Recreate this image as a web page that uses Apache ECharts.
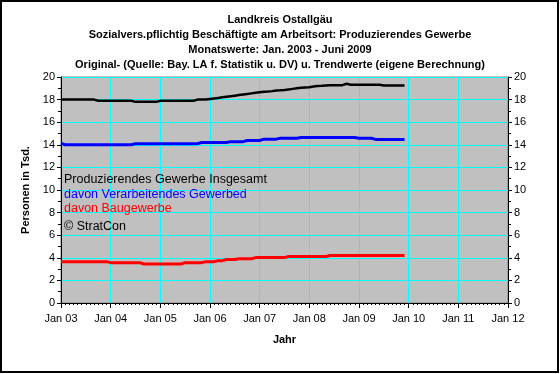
<!DOCTYPE html>
<html><head><meta charset="utf-8">
<script src="https://cdn.jsdelivr.net/npm/echarts@6/dist/echarts.min.js"></script>
<style>html,body{margin:0;padding:0;background:#fff}#c{width:560px;height:374px}</style>
</head><body><div id="c"></div>
<script>
// Months since Jan 2003 (0 = Jan 03 ... 83 = Dec 09)
const xTickLabels = ['Jan 03','Jan 04','Jan 05','Jan 06','Jan 07','Jan 08','Jan 09','Jan 10','Jan 11','Jan 12'];
const yTickLabels = ['0','2','4','6','8','10','12','14','16','18','20'];
const titleLines = [
  'Landkreis Ostallgäu',
  'Sozialvers.pflichtig Beschäftigte am Arbeitsort: Produzierendes Gewerbe',
  'Monatswerte: Jan. 2003 - Juni 2009',
  'Original- (Quelle: Bay. LA f. Statistik u. DV) u. Trendwerte (eigene Berechnung)'
];
const seriesNames = ['Produzierendes Gewerbe Insgesamt','davon Verarbeitendes Gewerbed','davon Baugewerbe'];
const noteText = '© StratCon';

const insgesamt = [
  18.0,18.0,18.0,18.0,18.0,18.0,18.0,18.0,18.0,17.9,17.9,17.9,
  17.9,17.9,17.9,17.9,17.9,17.9,17.8,17.8,17.8,17.8,17.8,17.8,
  17.9,17.9,17.9,17.9,17.9,17.9,17.9,17.9,17.9,18.0,18.0,18.0,
  18.05,18.1,18.15,18.2,18.25,18.3,18.35,18.4,18.45,18.5,18.55,18.6,
  18.65,18.7,18.72,18.75,18.8,18.82,18.85,18.9,18.95,19.0,19.05,19.08,
  19.1,19.15,19.2,19.22,19.25,19.28,19.28,19.28,19.28,19.4,19.32,19.32,
  19.32,19.32,19.32,19.32,19.32,19.32,19.25,19.25,19.25,19.25,19.25,19.25
];
const verarbeitend = [
  14.15,14.0,14.0,14.0,14.0,14.0,14.0,14.0,14.0,14.0,14.0,14.0,
  14.0,14.0,14.0,14.0,14.0,14.0,14.1,14.1,14.1,14.1,14.1,14.1,
  14.1,14.1,14.1,14.1,14.1,14.1,14.1,14.1,14.1,14.1,14.2,14.2,
  14.2,14.2,14.2,14.2,14.2,14.28,14.28,14.28,14.28,14.38,14.38,14.38,
  14.38,14.5,14.5,14.5,14.5,14.58,14.58,14.58,14.58,14.58,14.65,14.65,
  14.65,14.65,14.65,14.65,14.65,14.65,14.65,14.65,14.65,14.65,14.65,14.65,
  14.58,14.58,14.58,14.58,14.48,14.48,14.48,14.48,14.48,14.48,14.48,14.48
];
const bau = [
  3.66,3.66,3.66,3.66,3.66,3.66,3.66,3.66,3.66,3.66,3.66,3.66,
  3.57,3.57,3.57,3.57,3.57,3.57,3.57,3.57,3.45,3.45,3.45,3.45,
  3.45,3.45,3.45,3.45,3.45,3.45,3.57,3.57,3.57,3.57,3.57,3.66,
  3.66,3.66,3.75,3.75,3.85,3.85,3.85,3.92,3.92,3.92,3.92,4.02,
  4.02,4.02,4.02,4.02,4.02,4.02,4.02,4.12,4.12,4.12,4.12,4.12,
  4.12,4.12,4.12,4.12,4.12,4.2,4.2,4.2,4.2,4.2,4.2,4.2,
  4.2,4.2,4.2,4.2,4.2,4.2,4.2,4.2,4.2,4.2,4.2,4.2
];

const FONT = 'Liberation Sans, Arial, sans-serif';
const toPairs = arr => arr.map((v, i) => [i, v]);

const chart = echarts.init(document.getElementById('c'), null, {renderer: 'canvas'});
const yAxisCommon = {
  type: 'value', min: 0, max: 20, interval: 2,
  axisLine: {show: true, lineStyle: {color: '#000', width: 1}},
  axisTick: {show: true, length: 4, lineStyle: {color: '#000'}},
  minorTick: {show: true, splitNumber: 2, length: 3, lineStyle: {color: '#000'}},
  splitLine: {show: false},
  axisLabel: {color: '#000', fontFamily: FONT, fontSize: 11, margin: 6,
    formatter: v => yTickLabels[Math.round(v / 2)]}
};
chart.setOption({
  animation: false,
  title: {
    text: titleLines.join('\n'),
    left: 'center', top: 8,
    textStyle: {fontFamily: FONT, fontSize: 11, fontWeight: 'bold', color: '#000', lineHeight: 14.8}
  },
  grid: {left: 61, right: 52, top: 77, bottom: 71, show: true, backgroundColor: '#C0C0C0', borderColor: '#808080', borderWidth: 1},
  xAxis: {
    type: 'value', min: 0, max: 108, interval: 12,
    name: 'Jahr', nameLocation: 'middle', nameGap: 31,
    nameTextStyle: {fontFamily: FONT, fontSize: 11, fontWeight: 'bold', color: '#000'},
    axisLine: {show: true, onZero: false, lineStyle: {color: '#000', width: 1}},
    axisTick: {show: true, length: 5, lineStyle: {color: '#000'}},
    minorTick: {show: true, splitNumber: 12, length: 2, lineStyle: {color: '#000'}},
    splitLine: {show: true, lineStyle: {color: '#00FFFF', width: 1}},
    axisLabel: {color: '#000', fontFamily: FONT, fontSize: 11, margin: 10,
      formatter: v => xTickLabels[Math.round(v / 12)]}
  },
  yAxis: [
    Object.assign({}, yAxisCommon, {
      position: 'left',
      splitLine: {show: true, lineStyle: {color: '#00FFFF', width: 1}},
      name: 'Personen in Tsd.', nameLocation: 'middle', nameGap: 29, nameRotate: 90,
      nameTextStyle: {fontFamily: FONT, fontSize: 11, fontWeight: 'bold', color: '#000'}
    }),
    Object.assign({}, yAxisCommon, {position: 'right'})
  ],
  series: [
    {name: seriesNames[0], type: 'line', data: toPairs(insgesamt), showSymbol: false, lineStyle: {color: '#000', width: 2.5}, itemStyle: {color: '#000'}},
    {name: seriesNames[1], type: 'line', data: toPairs(verarbeitend), showSymbol: false, lineStyle: {color: '#0000FF', width: 3}, itemStyle: {color: '#0000FF'}},
    {name: seriesNames[2], type: 'line', data: toPairs(bau), showSymbol: false, lineStyle: {color: '#FF0000', width: 3}, itemStyle: {color: '#FF0000'}}
  ],
  graphic: [
    {type: 'rect', shape: {x: 1, y: 1, width: 557, height: 371}, style: {fill: null, stroke: '#000', lineWidth: 2}, silent: true, z: 100},
    {type: 'text', left: 64, top: 173, style: {text: seriesNames[0], fill: '#000', font: '12.5px ' + FONT}, z: 100},
    {type: 'text', left: 64, top: 188, style: {text: seriesNames[1], fill: '#0000FF', font: '12.5px ' + FONT}, z: 100},
    {type: 'text', left: 64, top: 202, style: {text: seriesNames[2], fill: '#FF0000', font: '12.5px ' + FONT}, z: 100},
    {type: 'text', left: 64, top: 220, style: {text: noteText, fill: '#000', font: '12.5px ' + FONT}, z: 100}
  ]
});
</script></body></html>
